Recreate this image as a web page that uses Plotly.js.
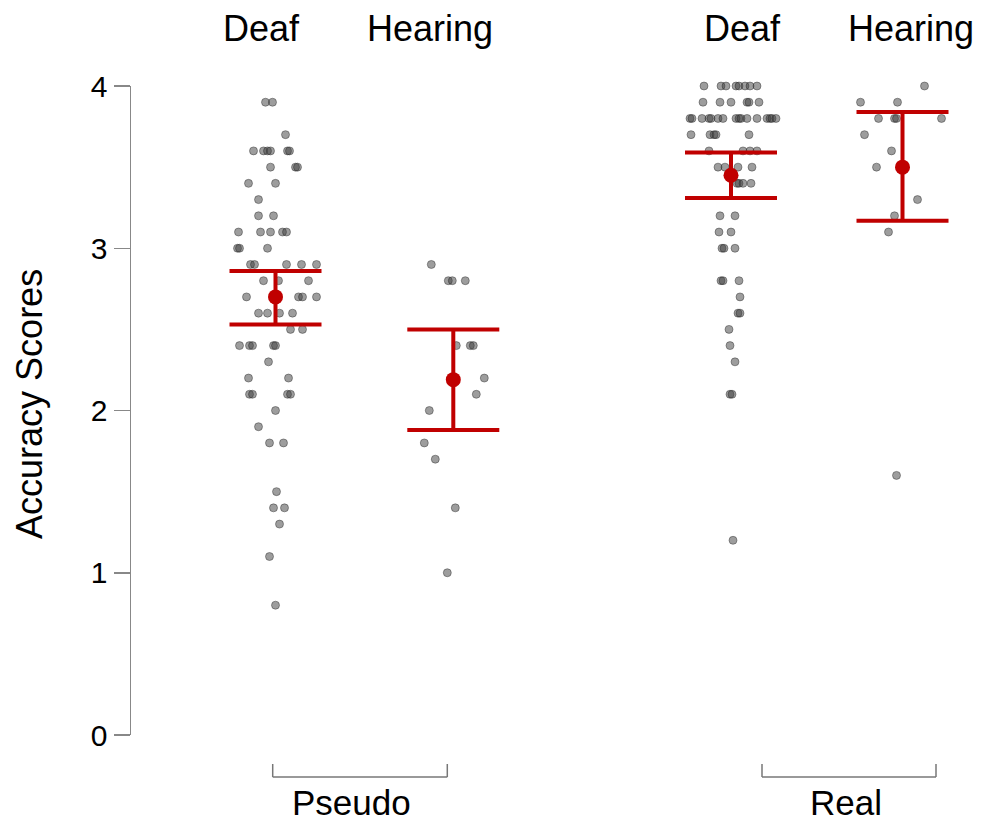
<!DOCTYPE html>
<html>
<head>
<meta charset="utf-8">
<script src="https://cdn.plot.ly/plotly-3.0.1.min.js"></script>
<style>
  html, body { margin: 0; padding: 0; background: #ffffff; }
  #chart { width: 992px; height: 825px; }
</style>
</head>
<body>
<div id="chart"></div>
<script>
// ---------------- data ----------------
const groupLabels = ['Deaf', 'Hearing', 'Deaf', 'Hearing'];
const conditionLabels = ['Pseudo', 'Real'];
const yTickValues = [0, 1, 2, 3, 4];
const yAxisTitle = 'Accuracy Scores';

const pseudoDeafScores = [
  3.9, 3.9, 3.7, 3.6, 3.6, 3.6, 3.6, 3.6, 3.6, 3.5, 3.5, 3.5, 3.4, 3.4, 3.3,
  3.2, 3.2, 3.1, 3.1, 3.1, 3.1, 3.1, 3.0, 3.0, 3.0, 2.9, 2.9, 2.9, 2.9, 2.9,
  2.8, 2.8, 2.8, 2.7, 2.7, 2.7, 2.7, 2.6, 2.6, 2.6, 2.6, 2.5, 2.5,
  2.4, 2.4, 2.4, 2.4, 2.4, 2.3, 2.2, 2.2, 2.1, 2.1, 2.1, 2.1, 2.0, 1.9,
  1.8, 1.8, 1.5, 1.4, 1.4, 1.3, 1.1, 0.8
];
const pseudoDeafJitter = [
  -0.10, -0.03, 0.10, -0.22, -0.12, -0.08, -0.05, 0.12, 0.14, -0.05, 0.20, 0.22, -0.27, 0.00, -0.17,
  -0.17, -0.02, -0.37, -0.15, -0.05, 0.07, 0.11, -0.38, -0.36, -0.08, -0.25, -0.21, 0.11, 0.26, 0.41,
  -0.12, 0.03, 0.33, -0.29, 0.23, 0.27, 0.41, -0.17, -0.08, 0.04, 0.17, 0.15, 0.27,
  -0.36, -0.26, -0.23, -0.02, 0.00, -0.07, -0.27, 0.13, -0.26, -0.23, 0.12, 0.15, 0.00, -0.17,
  -0.06, 0.08, 0.01, -0.02, 0.09, 0.04, -0.06, 0.00
];

const pseudoHearingScores = [2.9, 2.8, 2.8, 2.8, 2.4, 2.4, 2.4, 2.2, 2.1, 2.0, 1.8, 1.7, 1.4, 1.0];
const pseudoHearingJitter = [-0.22, -0.05, -0.01, 0.12, 0.03, 0.17, 0.20, 0.31, 0.23, -0.24, -0.29, -0.18, 0.02, -0.06];

const realDeafScores = [
  4.0, 4.0, 4.0, 4.0, 4.0, 4.0, 4.0, 4.0,
  3.9, 3.9, 3.9, 3.9, 3.9, 3.9,
  3.8, 3.8, 3.8, 3.8, 3.8, 3.8, 3.8, 3.8, 3.8, 3.8, 3.8, 3.8, 3.8, 3.8, 3.8, 3.8,
  3.7, 3.7, 3.7, 3.7, 3.7,
  3.6, 3.6, 3.6, 3.6,
  3.5, 3.5, 3.5, 3.5,
  3.4, 3.4, 3.4, 3.4,
  3.2, 3.2, 3.1, 3.1, 3.0, 3.0, 3.0,
  2.8, 2.8, 2.8, 2.7, 2.6, 2.6, 2.5, 2.4, 2.3, 2.1, 2.1, 1.2
];
const realDeafJitter = [
  -0.27, -0.10, -0.05, 0.05, 0.08, 0.14, 0.19, 0.26,
  -0.28, -0.11, 0.00, 0.16, 0.18, 0.28,
  -0.41, -0.39, -0.29, -0.22, -0.20, -0.13, -0.08, 0.05, 0.08, 0.10, 0.16, 0.26, 0.36, 0.39, 0.41, 0.45,
  -0.40, -0.21, -0.17, -0.15, 0.18,
  -0.22, 0.12, 0.19, 0.26,
  -0.13, -0.06, 0.07, 0.21,
  0.06, 0.08, 0.12, 0.20,
  -0.11, 0.04, -0.12, 0.00, -0.09, -0.07, 0.04,
  -0.10, -0.08, 0.08, 0.09, 0.07, 0.09, -0.02, -0.01, 0.04, -0.01, 0.01, 0.02
];

const realHearingScores = [4.0, 3.9, 3.9, 3.8, 3.8, 3.8, 3.8, 3.7, 3.6, 3.5, 3.3, 3.2, 3.1, 1.6];
const realHearingJitter = [0.22, -0.42, -0.05, -0.24, -0.08, -0.06, 0.39, -0.38, -0.11, -0.26, 0.15, -0.08, -0.14, -0.06];

const groupMeans  = [2.70, 2.19, 3.45, 3.50];
const groupCILow  = [2.53, 1.88, 3.31, 3.17];
const groupCIHigh = [2.86, 2.50, 3.59, 3.84];

// ---------------- layout constants ----------------
const groupCenters = [1.445, 3.223, 6.0, 7.715];     // x-axis units
const groupLabelX = [1.305, 2.99, 6.11, 7.80];
const conditionLabelX = [2.20, 7.15];
const bracketSpans = [[1.417, 3.163], [6.31, 8.05]];
const FONT = 'Liberation Sans, Arial, Helvetica, sans-serif';
const RED = '#C00000';

const scoreSets = [pseudoDeafScores, pseudoHearingScores, realDeafScores, realHearingScores];
const jitterSets = [pseudoDeafJitter, pseudoHearingJitter, realDeafJitter, realHearingJitter];

const traces = [];
scoreSets.forEach((scores, g) => {
  traces.push({
    type: 'scatter',
    mode: 'markers',
    x: jitterSets[g].map(j => groupCenters[g] + j),
    y: scores,
    cliponaxis: false,
    hoverinfo: 'y',
    marker: {
      size: 8,
      color: 'rgba(60,60,60,0.5)',
      line: { color: 'rgba(30,30,30,0.4)', width: 1 }
    },
    showlegend: false
  });
});

traces.push({
  type: 'scatter',
  mode: 'markers',
  x: groupCenters,
  y: groupMeans,
  cliponaxis: false,
  marker: { size: 15, color: RED },
  error_y: {
    type: 'data',
    symmetric: false,
    array: groupMeans.map((m, i) => groupCIHigh[i] - m),
    arrayminus: groupMeans.map((m, i) => m - groupCILow[i]),
    color: RED,
    thickness: 4,
    width: 46
  },
  showlegend: false
});

const annotations = [];
groupLabels.forEach((t, i) => {
  annotations.push({
    text: t, x: groupLabelX[i], xref: 'x', y: 1.0885, yref: 'paper',
    xanchor: 'center', yanchor: 'middle', showarrow: false,
    font: { family: FONT, size: 36, color: '#000' }
  });
});
conditionLabels.forEach((t, i) => {
  annotations.push({
    text: t, x: conditionLabelX[i], xref: 'x', y: -0.1365, yref: 'paper',
    xanchor: 'center', yanchor: 'bottom', showarrow: false,
    font: { family: FONT, size: 35, color: '#000' }
  });
});
annotations.push({
  text: yAxisTitle, x: -0.1215, xref: 'paper', y: 0.51, yref: 'paper',
  xanchor: 'center', yanchor: 'middle', textangle: -90, showarrow: false,
  font: { family: FONT, size: 36, color: '#000' }
});

const shapes = [];
bracketSpans.forEach(([a, b]) => {
  const ln = { color: '#777777', width: 1.5 };
  shapes.push({ type: 'line', xref: 'x', yref: 'paper', x0: a, x1: b, y0: -0.0647, y1: -0.0647, line: ln });
  shapes.push({ type: 'line', xref: 'x', yref: 'paper', x0: a, x1: a, y0: -0.0647, y1: -0.0447, line: ln });
  shapes.push({ type: 'line', xref: 'x', yref: 'paper', x0: b, x1: b, y0: -0.0647, y1: -0.0447, line: ln });
});

const layout = {
  width: 992,
  height: 825,
  margin: { l: 131, r: 21, t: 86, b: 90, pad: 0 },
  paper_bgcolor: '#ffffff',
  plot_bgcolor: '#ffffff',
  font: { family: FONT, color: '#000' },
  showlegend: false,
  xaxis: {
    range: [0, 8.4],
    visible: false,
    fixedrange: true
  },
  yaxis: {
    range: [0, 4],
    tickmode: 'array',
    tickvals: yTickValues,
    ticktext: yTickValues.map(String),
    ticks: 'outside',
    ticklen: 16,
    tickwidth: 1.5,
    tickcolor: '#888888',
    showline: true,
    linecolor: '#888888',
    linewidth: 1.5,
    showgrid: false,
    zeroline: false,
    tickfont: { family: FONT, size: 30, color: '#000' },
    fixedrange: true
  },
  annotations: annotations,
  shapes: shapes
};

Plotly.newPlot('chart', traces, layout, { displayModeBar: false, staticPlot: true });
</script>
</body>
</html>
